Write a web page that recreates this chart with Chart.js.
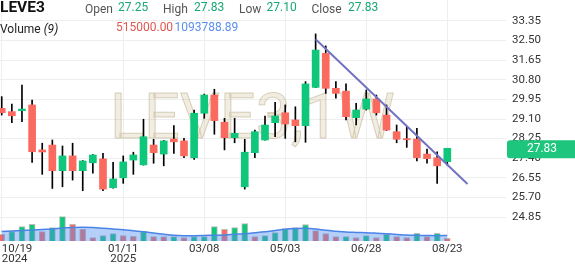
<!DOCTYPE html>
<html>
<head>
<meta charset="utf-8">
<script src="https://cdn.jsdelivr.net/npm/chart.js@4.4.1/dist/chart.umd.min.js"></script>
<style>
html, body { margin: 0; padding: 0; background: #fff; }
#wrap { position: relative; width: 575px; height: 267px; overflow: hidden; font-family: Roboto, sans-serif; }
#wrap canvas { position: absolute; left: 0; top: 0; }
.t { position: absolute; line-height: 1; font-size: 12px; white-space: nowrap; color: #555; }
.v { color: #17a873; }
</style>
</head>
<body>
<div id="wrap">
  <canvas id="chart" width="575" height="267"></canvas>
  <div class="t" style="left:0;top:0;font-size:15.5px;font-weight:bold;color:#111">LEVE3</div>
  <div class="t" style="left:85px;top:3px">Open</div>
  <div class="t v" style="left:118px;top:0.5px">27.25</div>
  <div class="t" style="left:163px;top:3px">High</div>
  <div class="t v" style="left:194px;top:0.5px">27.83</div>
  <div class="t" style="left:239px;top:3px">Low</div>
  <div class="t v" style="left:266.5px;top:0.5px">27.10</div>
  <div class="t" style="left:311.5px;top:3px">Close</div>
  <div class="t v" style="left:348px;top:0.5px">27.83</div>
  <div class="t" style="left:0;top:23px;color:#222">Volume <i>(9)</i></div>
  <div class="t" style="left:116px;top:20.5px;color:#e0574f">515000.00</div>
  <div class="t" style="left:174.5px;top:20.5px;color:#5b8ff0">1093788.89</div>
</div>
<script>
// weekly candles, first = 2024-10-19, last = 2025-08-23
const opens  = [29.56,29.42,29.46,29.71,27.76,27.97,26.86,27.50,26.86,27.20,
                27.37,26.12,26.55,27.32,27.11,27.97,27.58,28.23,28.15,27.42,
                29.35,30.14,28.96,28.29,26.16,27.64,28.19,28.94,29.37,29.06,
                28.81,30.47,31.95,30.43,30.31,29.16,29.53,29.97,29.27,28.55,
                28.25,28.23,27.58,27.42,27.25];
const highs  = [30.07,29.75,30.57,29.92,28.05,28.19,27.93,28.05,27.30,27.56,
                27.61,27.22,27.50,27.66,29.09,28.22,28.17,28.81,28.26,29.49,
                30.18,30.39,29.13,29.13,28.22,28.62,29.23,29.82,29.71,29.63,
                30.72,32.79,32.27,30.72,30.62,29.78,30.36,30.14,29.71,28.84,
                28.77,28.70,27.80,27.68,27.83];
const lows   = [29.27,28.94,28.98,27.22,26.70,26.09,26.16,26.45,25.99,26.75,
                25.99,26.10,26.31,26.70,27.10,27.18,27.07,27.61,27.42,27.35,
                29.13,28.44,27.76,28.07,26.06,27.42,28.18,28.33,28.26,28.11,
                28.09,30.46,30.21,30.00,29.06,28.84,29.49,29.27,28.60,28.07,
                27.87,27.28,27.18,26.31,27.10];
const closes = [29.37,29.24,29.53,27.68,27.67,26.86,27.50,26.86,27.28,27.54,
                26.06,26.50,27.24,27.54,28.33,27.64,28.15,28.11,27.50,29.35,
                30.14,29.03,28.29,28.48,27.66,28.55,28.84,29.23,28.88,28.81,
                30.62,32.09,30.43,30.21,29.20,29.49,29.97,29.37,28.62,28.22,
                28.20,27.42,27.38,27.07,27.83];

// volume in thousands, 1 = up bar, 0 = down bar
const volK   = [1340,1860,2860,3340,1860,2660,4860,3340,2400,660,
                1060,1460,1060,940,1860,860,860,860,660,860,
                860,2860,2340,2660,3460,860,1060,1700,2500,2700,
                3300,2060,1460,860,860,700,1060,700,1340,860,
                660,1540,860,1540,515];
const volUp  = [0,1,1,1,0,1,1,0,0,0, 1,1,0,0,1,0,0,1,0,1,
                1,1,0,1,1,0,1,1,1,1, 1,0,0,0,1,0,1,0,1,0,
                0,1,0,1,0];
const volMA  = [1900,2000,2100,2200,2300,2400,2600,2700,2740,2700,
                2560,2400,2240,2040,1860,1600,1360,1160,1060,1060,
                1100,1160,1200,1340,1460,1640,1840,2100,2360,2500,
                2540,2400,2140,1960,1800,1720,1660,1560,1440,1320,
                1200,1140,1100,1060,1094];

const trendX = [31, 46];
const trendY = [32.56, 26.28];

const xTickIdx = [0, 12, 20, 28, 36, 44];
const xTickLabels = [['10/19','2024'], ['01/11','2025'], '03/08', '05/03', '06/28', '08/23'];
const yTicks = [24.85, 25.70, 26.55, 27.40, 28.25, 29.10, 29.95, 30.80, 31.65, 32.50, 33.35];
const lastPrice = 27.83;

const UP = '#0ec77a', DOWN = '#fb6a5e';
const idx = opens.map((_, i) => i);
const X_MAX = 49.8;

const watermark = {
  id: 'watermark',
  beforeDatasetsDraw(chart) {
    const c = chart.ctx;
    c.save();
    c.font = '63px Roboto';
    c.textBaseline = 'alphabetic';
    c.fillStyle = 'rgba(205,190,150,0.28)';
    c.strokeStyle = 'rgba(185,170,130,0.5)';
    c.lineWidth = 1;
    c.fillText('LEVE3,1W', 110, 138);
    c.strokeText('LEVE3,1W', 110, 138);
    c.restore();
  }
};

const priceTag = {
  id: 'priceTag',
  afterDraw(chart) {
    const c = chart.ctx;
    const y = chart.scales.y.getPixelForValue(lastPrice) + 1;
    const x0 = chart.chartArea.right + 1, h = 18, r = 3;
    c.save();
    c.fillStyle = '#1dc67c';
    c.beginPath();
    c.moveTo(x0 + r, y - h / 2);
    c.lineTo(575, y - h / 2);
    c.lineTo(575, y + h / 2);
    c.lineTo(x0 + r, y + h / 2);
    c.quadraticCurveTo(x0, y + h / 2, x0, y + h / 2 - r);
    c.lineTo(x0, y - h / 2 + r);
    c.quadraticCurveTo(x0, y - h / 2, x0 + r, y - h / 2);
    c.fill();
    c.fillStyle = '#fff';
    c.font = '12px Roboto';
    c.textAlign = 'center';
    c.textBaseline = 'middle';
    c.fillText(lastPrice.toFixed(2), 542, y);
    c.restore();
  }
};

new Chart(document.getElementById('chart'), {
  data: {
    datasets: [
      {
        type: 'line', order: 0, yAxisID: 'y',
        data: trendX.map((x, i) => ({ x, y: trendY[i] })),
        borderColor: '#7272c2', borderWidth: 2, pointRadius: 0
      },
      {
        type: 'bar', order: 1, yAxisID: 'y', grouped: false,
        data: idx.map(i => ({ x: i, y: [opens[i], closes[i]] })),
        backgroundColor: idx.map(i => closes[i] >= opens[i] ? UP : DOWN),
        barThickness: 7, borderWidth: 0
      },
      {
        type: 'bar', order: 2, yAxisID: 'y', grouped: false,
        data: idx.map(i => ({ x: i, y: [lows[i], highs[i]] })),
        backgroundColor: '#000', barThickness: 1, borderWidth: 0
      },
      {
        type: 'line', order: 3, yAxisID: 'yv',
        data: idx.map(i => ({ x: i, y: volMA[i] })),
        borderColor: '#4a84e6', borderWidth: 1.5, pointRadius: 0, tension: 0.4,
        fill: 'start', backgroundColor: 'rgba(80,140,240,0.42)'
      },
      {
        type: 'bar', order: 4, yAxisID: 'yv', grouped: false,
        data: idx.map(i => ({ x: i, y: volK[i] })),
        backgroundColor: idx.map(i => volUp[i] ? UP : DOWN),
        borderColor: 'rgba(170,170,170,0.8)', borderWidth: 1,
        barThickness: 6
      }
    ]
  },
  options: {
    responsive: false,
    animation: false,
    events: [],
    layout: { padding: 0 },
    plugins: { legend: { display: false }, tooltip: { enabled: false } },
    scales: {
      x: {
        type: 'linear', min: -0.17, max: X_MAX, offset: false,
        afterBuildTicks: s => { s.ticks = xTickIdx.concat([X_MAX]).map(v => ({ value: v })); },
        afterFit: s => { s.height = 26; s.paddingLeft = 0; s.paddingRight = 0; },
        grid: {
          offset: false,
          color: c => (c.tick && c.tick.value > 45) ? 'rgba(0,0,0,0)' : '#eeeeee',
          drawTicks: false
        },
        border: { display: false },
        ticks: {
          autoSkip: false, maxRotation: 0, align: 'inner', padding: 3,
          color: '#333', font: { family: 'Roboto', size: 11.5, lineHeight: 0.88 },
          callback: (v, i) => i < xTickLabels.length ? xTickLabels[i] : ''
        }
      },
      y: {
        type: 'linear', position: 'right', min: 23.81, max: 34.26,
        afterBuildTicks: s => { s.ticks = yTicks.map(v => ({ value: v })); },
        afterFit: s => { s.width = 69; s.paddingTop = 0; s.paddingBottom = 0; },
        grid: { color: '#eeeeee', drawTicks: false },
        border: { display: false },
        ticks: {
          padding: 6, color: '#333', font: { family: 'Roboto', size: 11.5 },
          callback: v => v.toFixed(2)
        }
      },
      yv: {
        type: 'linear', display: false, min: 0, max: 48200
      }
    }
  },
  plugins: [watermark, priceTag]
});
</script>
</body>
</html>
